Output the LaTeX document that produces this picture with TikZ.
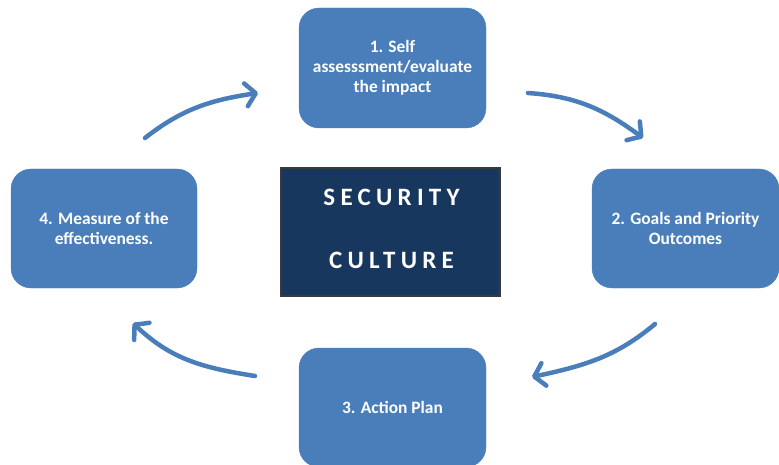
\documentclass[tikz,border=0pt]{standalone}
\usepackage{fontspec}
\setmainfont{Carlito}
\usetikzlibrary{arrows.meta,bending}
\definecolor{boxblue}{HTML}{4A7EBB}
\definecolor{arrowblue}{HTML}{4A7EBB}
\definecolor{navy}{HTML}{17375E}
\definecolor{navyborder}{HTML}{3A3A3A}
\tikzset{
  stepbox/.style={rectangle, rounded corners=20pt, fill=boxblue, draw=boxblue,
    text=white, align=center, inner sep=0pt,
    minimum width=187pt, minimum height=120pt,
    font=\fontsize{17.4}{20}\selectfont\bfseries},
  centerbox/.style={rectangle, fill=navy, draw=navyborder, line width=1.5pt,
    inner sep=0pt, minimum width=219pt, minimum height=128pt},
  centertext/.style={text=white, align=center,
    font=\fontsize{25}{63}\selectfont\bfseries\addfontfeatures{LetterSpace=21}},
  cyclearrow/.style={draw=arrowblue, line width=4.5pt, line cap=round, line join=round,
    -{Straight Barb[length=10pt 0, width=23pt 0, line cap=round, line join=round, bend]}}
}
\begin{document}
\begin{tikzpicture}[x=1pt,y=1pt]
\useasboundingbox (0,0) rectangle (779,-465);
\clip (0,0) rectangle (779,-465);
\node[stepbox] (top) at (392.5,-68) {1. Self\\assesssment/evaluate\\the impact};
\node[stepbox, minimum height=119pt] (right) at (685.5,-228.5) {2. Goals and Priority\\Outcomes};
\node[stepbox, minimum height=119pt] (bottom) at (392.5,-407.5) {3. Action Plan};
\node[stepbox, minimum width=186pt, minimum height=119pt] (left) at (104,-228.5) {4. Measure of the\\effectiveness.};
\node[centerbox] (center) at (390.5,-232) {};
\node[centertext] (ctext) at (391.5,-229) {SECURITY\\CULTURE};

\coordinate (a1s) at (145,-138);
\coordinate (a1e) at (258,-93);
\coordinate (a2s) at (528,-93);
\coordinate (a2e) at (643,-138);
\coordinate (a3s) at (655,-324);
\coordinate (a3e) at (532,-377);
\coordinate (a4s) at (255,-376);
\coordinate (a4e) at (133,-323);

\draw[cyclearrow] (a1s) to[out=38,in=-172] (a1e);
\draw[cyclearrow] (a2s) to[out=-4,in=143] (a2e);
\draw[cyclearrow] (a3s) to[out=-140,in=12] (a3e);
\draw[cyclearrow] (a4s) to[out=171,in=-45] (a4e);
\end{tikzpicture}
\end{document}
